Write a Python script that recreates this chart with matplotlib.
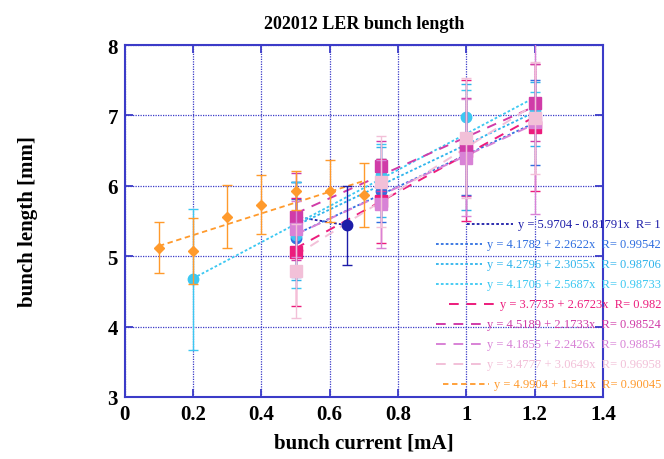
import numpy as np
import matplotlib
matplotlib.use("Agg")
import matplotlib.pyplot as plt
from matplotlib.lines import Line2D

# series data: bunch current [mA], bunch length [mm], error [mm]
x_navy = [0.5, 0.65]
y_navy = [5.56, 5.44]
e_navy = [0.50, 0.56]

x_blue = [0.5, 0.75, 1.0, 1.2]
y_blue = [5.26, 5.93, 6.42, 6.90]
e_blue = [0.55, 0.45, 0.55, 0.60]

x_cyan1 = [0.5, 0.75, 1.0, 1.2]
y_cyan1 = [5.36, 6.05, 6.55, 7.02]
e_cyan1 = [0.70, 0.50, 0.90, 0.45]

x_cyan2 = [0.2, 0.5, 0.75, 1.0, 1.2]
y_cyan2 = [4.67, 5.30, 6.15, 6.98, 7.08]
e_cyan2 = [1.00, 0.75, 0.45, 0.38, 0.25]

x_hot = [0.5, 0.75, 1.0, 1.2]
y_hot = [5.06, 5.78, 6.50, 6.83]
e_hot = [0.77, 0.60, 1.00, 0.90]

x_mag = [0.5, 0.75, 1.0, 1.2]
y_mag = [5.56, 6.28, 6.55, 7.18]
e_mag = [0.62, 0.35, 0.70, 0.55]

x_orch = [0.5, 0.75, 1.0, 1.2]
y_orch = [5.39, 5.74, 6.40, 6.90]
e_orch = [0.40, 0.63, 0.83, 1.30]

x_lpink = [0.5, 0.75, 1.0, 1.2]
y_lpink = [4.79, 6.06, 6.68, 6.96]
e_lpink = [0.67, 0.65, 0.85, 0.80]

x_orange = [0.1, 0.2, 0.3, 0.4, 0.5, 0.6, 0.7]
y_orange = [5.12, 5.07, 5.56, 5.73, 5.93, 5.93, 5.87]
e_orange = [0.36, 0.47, 0.45, 0.42, 0.28, 0.44, 0.46]

# linear fit coefficients shown in the legend: y = a + b x, R
fit_a = [5.9704, 4.1782, 4.2796, 4.1706, 3.7735, 4.5189, 4.1855, 3.4777, 4.9904]
fit_b = [-0.81791, 2.2622, 2.3055, 2.5687, 2.6723, 2.1733, 2.2426, 3.0649, 1.541]
fit_r = ["1", "0.99542", "0.98706", "0.98733", "0.982", "0.98524", "0.98854", "0.96958", "0.90045"]

series = [
    (x_navy, y_navy, e_navy, "#1c1ca8", "o", (0, (1.5, 1.2))),
    (x_blue, y_blue, e_blue, "#2f6fe0", "o", (0, (1.5, 1.2))),
    (x_cyan1, y_cyan1, e_cyan1, "#2fb4ec", "o", (0, (1.5, 1.2))),
    (x_cyan2, y_cyan2, e_cyan2, "#3cc8f2", "o", (0, (1.5, 1.2))),
    (x_hot, y_hot, e_hot, "#ec1c7c", "s", (0, (5, 4))),
    (x_mag, y_mag, e_mag, "#d03ca8", "s", (0, (5, 4))),
    (x_orch, y_orch, e_orch, "#d882d6", "s", (0, (5, 4))),
    (x_lpink, y_lpink, e_lpink, "#f2c0d8", "s", (0, (5, 4))),
    (x_orange, y_orange, e_orange, "#ff9a2c", "D", (0, (3, 2))),
]

plt.rcParams["font.family"] = ["Liberation Serif", "DejaVu Serif"]

fig = plt.figure(figsize=(6.64, 4.6), dpi=100)
ax = fig.add_axes([0.188, 0.135, 0.72, 0.765])

axis_color = "#3b3bc8"

for i, (xs, ys, es, col, mk, ls) in enumerate(series):
    xs = np.array(xs)
    xl = np.array([xs.min(), xs.max()])
    ax.plot(xl, fit_a[i] + fit_b[i] * xl, color=col, ls=ls,
            lw=1.4 if mk == "s" else 1.3, zorder=2 + i * 0.1)
    ms = 7.5 if mk == "o" else (8 if mk == "s" else 5.5)
    ax.errorbar(xs, ys, yerr=es, fmt=mk, color=col, ms=ms, mec=col,
                ecolor=col, elinewidth=1.0, capsize=3.5, capthick=1.0,
                zorder=3 + i * 0.1)

ax.set_xlim(0, 1.4)
ax.set_ylim(3, 8)
ax.set_xticks(np.arange(0, 1.41, 0.2))
ax.set_xticklabels(["0", "0.2", "0.4", "0.6", "0.8", "1", "1.2", "1.4"])
ax.set_yticks([3, 4, 5, 6, 7, 8])
ax.grid(True, color=axis_color, ls=(0, (1, 1)), lw=0.9)
ax.set_axisbelow(True)
for s in ax.spines.values():
    s.set_color(axis_color)
    s.set_linewidth(1.5)
ax.tick_params(direction="in", length=6, width=1.3, color=axis_color,
               top=True, right=True, labelsize=15, pad=5)
for lab in ax.get_xticklabels() + ax.get_yticklabels():
    lab.set_fontweight("bold")

ax.set_title("202012 LER bunch length", fontsize=13, fontweight="bold", pad=12)
ax.set_xlabel("bunch current [mA]", fontsize=15, fontweight="bold", labelpad=6)
ax.set_ylabel("bunch length [mm]", fontsize=15, fontweight="bold", labelpad=50)

# legend, right-aligned, drawn in figure pixels
fig.canvas.draw()
renderer = fig.canvas.get_renderer()
W, H = 664.0, 460.0
for i, (xs, ys, es, col, mk, ls) in enumerate(series):
    b = fit_b[i]
    sign = "-" if b < 0 else "+"
    label = f"y = {fit_a[i]:.4f} {sign} {abs(b):g}x  R= {fit_r[i]}"
    ypx = 225 + 20 * i
    t = fig.text(661 / W, 1 - ypx / H, label, color=col, fontsize=9,
                 ha="right", va="center", zorder=10)
    bb = t.get_window_extent(renderer)
    x1 = bb.x0 - 5
    x0 = x1 - 46
    fig.add_artist(Line2D([x0 / W, x1 / W], [1 - ypx / H, 1 - ypx / H],
                          color=col, ls=ls, lw=1.4 if mk == "s" else 1.3,
                          transform=fig.transFigure))

fig.savefig("out.png", dpi=100)
